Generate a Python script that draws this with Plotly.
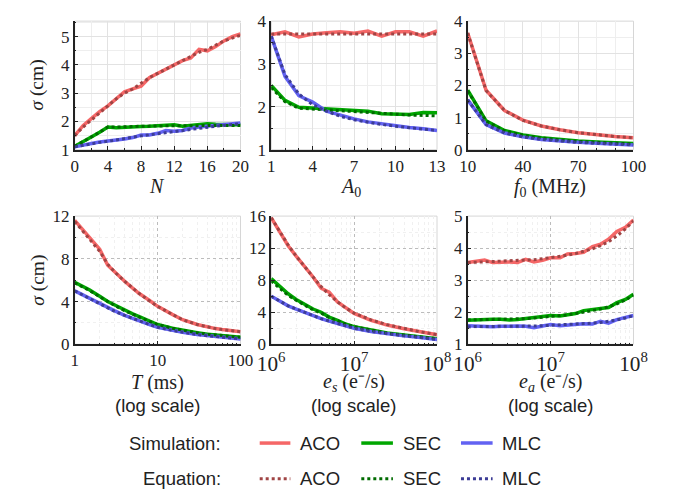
import plotly.graph_objects as go

# ---------------- data ----------------
N = list(range(0, 21))
N_aco_sim = [1.5, 1.85, 2.1, 2.35, 2.55, 2.8, 3.05, 3.15, 3.25, 3.55, 3.7, 3.85, 4.0, 4.15, 4.25, 4.55, 4.5, 4.65, 4.85, 5.0, 5.1]
N_aco_eq = [1.5, 1.8, 2.05, 2.3, 2.55, 2.8, 3.0, 3.15, 3.35, 3.55, 3.7, 3.85, 4.0, 4.15, 4.3, 4.45, 4.55, 4.7, 4.85, 4.95, 5.05]
N_sec_sim = [1.12, 1.3, 1.45, 1.62, 1.8, 1.78, 1.8, 1.83, 1.82, 1.83, 1.85, 1.87, 1.88, 1.83, 1.85, 1.9, 1.92, 1.9, 1.88, 1.88, 1.88]
N_sec_eq = [1.12, 1.3, 1.45, 1.62, 1.8, 1.8, 1.82, 1.82, 1.83, 1.84, 1.84, 1.85, 1.85, 1.85, 1.85, 1.85, 1.86, 1.86, 1.86, 1.86, 1.86]
N_mlc_sim = [1.1, 1.17, 1.22, 1.27, 1.3, 1.32, 1.38, 1.43, 1.52, 1.52, 1.58, 1.68, 1.65, 1.68, 1.77, 1.8, 1.83, 1.85, 1.88, 1.9, 1.95]
N_mlc_eq = [1.1, 1.16, 1.21, 1.26, 1.3, 1.34, 1.39, 1.44, 1.49, 1.53, 1.57, 1.61, 1.65, 1.69, 1.73, 1.76, 1.8, 1.83, 1.86, 1.89, 1.92]

A0 = list(range(1, 14))
A_aco_sim = [3.68, 3.75, 3.63, 3.7, 3.73, 3.75, 3.72, 3.77, 3.65, 3.75, 3.75, 3.65, 3.77]
A_aco_eq = [3.7] * 13
A_sec_sim = [2.5, 2.15, 1.99, 1.97, 1.96, 1.93, 1.91, 1.9, 1.84, 1.84, 1.82, 1.87, 1.86]
A_sec_eq = [2.45, 2.12, 1.97, 1.95, 1.93, 1.9, 1.88, 1.86, 1.84, 1.82, 1.81, 1.8, 1.79]
A_mlc_sim = [3.65, 2.71, 2.26, 2.11, 1.9, 1.8, 1.72, 1.65, 1.6, 1.55, 1.52, 1.49, 1.45]
A_mlc_eq = [3.65, 2.75, 2.3, 2.05, 1.9, 1.78, 1.7, 1.64, 1.59, 1.55, 1.51, 1.48, 1.45]

f0 = [10, 20, 30, 40, 50, 60, 70, 80, 90, 100]
f_aco_sim = [3.63, 1.85, 1.22, 0.92, 0.74, 0.62, 0.53, 0.46, 0.41, 0.37]
f_aco_eq = [3.63, 1.84, 1.22, 0.91, 0.74, 0.62, 0.53, 0.46, 0.41, 0.37]
f_sec_sim = [1.85, 0.9, 0.6, 0.46, 0.37, 0.31, 0.27, 0.24, 0.21, 0.19]
f_sec_eq = [1.83, 0.89, 0.59, 0.45, 0.36, 0.3, 0.26, 0.23, 0.2, 0.18]
f_mlc_sim = [1.55, 0.78, 0.52, 0.4, 0.32, 0.27, 0.23, 0.2, 0.17, 0.15]
f_mlc_eq = [1.55, 0.78, 0.52, 0.4, 0.32, 0.27, 0.23, 0.2, 0.17, 0.15]

T = [1, 1.5, 2, 2.5, 3, 4, 5, 6, 8, 10, 15, 20, 30, 40, 50, 60, 80, 100]
T_aco_sim = [11.6, 10.0, 8.9, 7.4, 6.8, 5.9, 5.25, 4.75, 4.1, 3.55, 2.8, 2.3, 1.85, 1.62, 1.47, 1.38, 1.27, 1.18]
T_aco_eq = [11.5, 9.9, 8.7, 7.5, 6.8, 5.9, 5.25, 4.75, 4.05, 3.55, 2.8, 2.3, 1.85, 1.62, 1.47, 1.38, 1.27, 1.18]
T_sec_sim = [5.8, 5.1, 4.5, 4.0, 3.7, 3.2, 2.85, 2.6, 2.15, 1.85, 1.5, 1.3, 1.08, 0.95, 0.87, 0.8, 0.72, 0.65]
T_sec_eq = [5.75, 5.05, 4.45, 4.0, 3.65, 3.15, 2.8, 2.55, 2.15, 1.85, 1.5, 1.3, 1.08, 0.95, 0.87, 0.8, 0.72, 0.65]
T_mlc_sim = [5.0, 4.3, 3.8, 3.4, 3.15, 2.7, 2.4, 2.2, 1.85, 1.6, 1.3, 1.12, 0.92, 0.8, 0.72, 0.66, 0.57, 0.5]
T_mlc_eq = [5.0, 4.3, 3.8, 3.4, 3.1, 2.7, 2.4, 2.2, 1.85, 1.6, 1.3, 1.12, 0.92, 0.8, 0.72, 0.66, 0.57, 0.5]

es = [1e6, 1.3e6, 1.6e6, 2e6, 2.5e6, 3.2e6, 4e6, 5e6, 6.3e6, 8e6, 1e7, 1.6e7, 2.5e7, 4e7, 6.3e7, 1e8]
es_aco_sim = [15.8, 13.8, 12.3, 11.0, 9.8, 8.4, 7.0, 6.5, 5.3, 4.5, 3.85, 3.0, 2.4, 1.95, 1.55, 1.2]
es_aco_eq = [15.8, 13.9, 12.4, 11.0, 9.7, 8.4, 7.2, 6.2, 5.3, 4.5, 3.9, 3.05, 2.45, 1.95, 1.55, 1.2]
es_sec_sim = [8.2, 7.1, 6.3, 5.6, 5.0, 4.4, 4.0, 3.4, 3.0, 2.5, 2.2, 1.75, 1.4, 1.15, 0.95, 0.7]
es_sec_eq = [7.9, 6.9, 6.1, 5.5, 4.9, 4.3, 3.9, 3.35, 2.95, 2.5, 2.2, 1.75, 1.4, 1.15, 0.95, 0.7]
es_mlc_sim = [6.0, 5.3, 4.8, 4.4, 4.0, 3.6, 3.2, 2.9, 2.6, 2.3, 2.0, 1.6, 1.3, 1.05, 0.85, 0.6]
es_mlc_eq = [6.0, 5.3, 4.8, 4.4, 4.0, 3.6, 3.2, 2.9, 2.6, 2.3, 2.0, 1.6, 1.3, 1.05, 0.85, 0.6]

ea = [1e6, 1.6e6, 2e6, 2.5e6, 3.2e6, 4e6, 5e6, 6.3e6, 8e6, 1e7, 1.3e7, 1.6e7, 2e7, 2.5e7, 3.2e7, 4e7, 5e7, 6.3e7, 8e7, 1e8]
ea_aco_sim = [3.55, 3.63, 3.55, 3.57, 3.57, 3.55, 3.65, 3.57, 3.62, 3.7, 3.7, 3.82, 3.83, 3.87, 4.05, 4.12, 4.28, 4.52, 4.65, 4.88]
ea_aco_eq = [3.55, 3.57, 3.58, 3.59, 3.6, 3.61, 3.62, 3.64, 3.67, 3.7, 3.74, 3.78, 3.83, 3.9, 3.98, 4.08, 4.2, 4.38, 4.6, 4.85]
ea_sec_sim = [1.75, 1.78, 1.78, 1.78, 1.76, 1.77, 1.8, 1.82, 1.86, 1.9, 1.88, 1.92, 1.96, 2.05, 2.08, 2.13, 2.15, 2.3, 2.4, 2.56]
ea_sec_eq = [1.76, 1.77, 1.77, 1.78, 1.78, 1.79, 1.8, 1.82, 1.84, 1.86, 1.89, 1.92, 1.96, 2.0, 2.05, 2.1, 2.17, 2.26, 2.38, 2.53]
ea_mlc_sim = [1.58, 1.55, 1.55, 1.56, 1.57, 1.57, 1.56, 1.52, 1.57, 1.62, 1.58, 1.6, 1.62, 1.64, 1.63, 1.72, 1.66, 1.77, 1.84, 1.9]
ea_mlc_eq = [1.55, 1.55, 1.55, 1.56, 1.56, 1.56, 1.57, 1.57, 1.58, 1.59, 1.6, 1.61, 1.62, 1.64, 1.66, 1.68, 1.71, 1.76, 1.82, 1.9]

methods = ["ACO", "SEC", "MLC"]
sim_colors = {"ACO": "#f56767", "SEC": "#00a600", "MLC": "#6262f2"}
eq_colors = {"ACO": "#a04444", "SEC": "#006b00", "MLC": "#3c3c96"}

panels = [
    (N, [N_aco_sim, N_sec_sim, N_mlc_sim], [N_aco_eq, N_sec_eq, N_mlc_eq]),
    (A0, [A_aco_sim, A_sec_sim, A_mlc_sim], [A_aco_eq, A_sec_eq, A_mlc_eq]),
    (f0, [f_aco_sim, f_sec_sim, f_mlc_sim], [f_aco_eq, f_sec_eq, f_mlc_eq]),
    (T, [T_aco_sim, T_sec_sim, T_mlc_sim], [T_aco_eq, T_sec_eq, T_mlc_eq]),
    (es, [es_aco_sim, es_sec_sim, es_mlc_sim], [es_aco_eq, es_sec_eq, es_mlc_eq]),
    (ea, [ea_aco_sim, ea_sec_sim, ea_mlc_sim], [ea_aco_eq, ea_sec_eq, ea_mlc_eq]),
]

W, H = 674, 497
OFF = 8  # page body margin in the browser shifts the figure by 8px
xdom = [(63, 236), (268, 441), (473, 646)]
ydom = [(12.3, 146), (215, 348.3)]


def px(x):
    return (x - OFF) / W


def py(y):
    return 1 - (y - OFF) / H


fig = go.Figure()
for i, (xs, sims, eqs) in enumerate(panels):
    ax = "" if i == 0 else str(i + 1)
    for m, ys in zip(methods, sims):
        fig.add_trace(go.Scatter(x=xs, y=ys, mode="lines", xaxis="x" + ax, yaxis="y" + ax,
                                 line=dict(color=sim_colors[m], width=3.5), showlegend=False))
    for m, ys in zip(methods, eqs):
        fig.add_trace(go.Scatter(x=xs, y=ys, mode="lines", xaxis="x" + ax, yaxis="y" + ax,
                                 line=dict(color=eq_colors[m], width=3, dash="dot"), showlegend=False))

serif = "Liberation Serif"
sans = "Liberation Sans"
tickfont = dict(family=serif, size=17, color="#222")

xcfg = [
    dict(range=[0, 20], tickvals=[0, 4, 8, 12, 16, 20], minor=dict(tickvals=list(range(0, 21, 2)))),
    dict(range=[1, 13], tickvals=[1, 4, 7, 10, 13], minor=dict(tickvals=list(range(1, 14)))),
    dict(range=[10, 100], tickvals=[10, 40, 70, 100], minor=dict(tickvals=list(range(10, 101, 10)))),
    dict(type="log", range=[0, 2], dtick=1, minor=dict(showgrid=True)),
    dict(type="log", range=[6, 8], dtick=1, exponentformat="power", minor=dict(showgrid=True)),
    dict(type="log", range=[6, 8], dtick=1, exponentformat="power", minor=dict(showgrid=True)),
]
ycfg = [
    dict(range=[1, 5.55], tickvals=[1, 2, 3, 4, 5], minor=dict(tickvals=[1.5, 2.5, 3.5, 4.5, 5.5])),
    dict(range=[1, 4], tickvals=[1, 2, 3, 4], minor=dict(tickvals=[1.5, 2.5, 3.5])),
    dict(range=[0, 4], tickvals=[0, 1, 2, 3, 4], minor=dict(tickvals=[0.5, 1.5, 2.5, 3.5])),
    dict(range=[0, 12], tickvals=[0, 4, 8, 12], minor=dict(tickvals=[2, 6, 10])),
    dict(range=[0, 16], tickvals=[0, 4, 8, 12, 16], minor=dict(tickvals=[2, 6, 10, 14])),
    dict(range=[1, 5], tickvals=[1, 2, 3, 4, 5], minor=dict(tickvals=[1.5, 2.5, 3.5, 4.5])),
]

layout = {}
shapes = []
for i in range(6):
    r, c = divmod(i, 3)
    ax = "" if i == 0 else str(i + 1)
    xd = [px(xdom[c][0]), px(xdom[c][1])]
    yd = [py(ydom[r][1]), py(ydom[r][0])]
    if r == 0:
        gcol, gdash, mcol = "#e2e2e2", "solid", "#eeeeee"
    else:
        gcol, gdash, mcol = "#bcbcbc", "dot", "#f0f0f0"
    common = dict(showline=True, linecolor="#222", linewidth=1.5,
                  ticks="inside", ticklen=4, tickcolor="#222", tickfont=tickfont,
                  showgrid=True, gridcolor=gcol, griddash=gdash, gridwidth=1, zeroline=False,
                  ticklabelstandoff=0)
    xc = dict(domain=xd, anchor="y" + ax, **common)
    mx = xcfg[i].pop("minor")
    mx.update(dict(ticks="inside", ticklen=2, tickcolor="#222", showgrid=True, gridcolor=mcol))
    xc.update(xcfg[i])
    xc["minor"] = mx
    yc = dict(domain=yd, anchor="x" + ax, **common)
    my = ycfg[i].pop("minor")
    my.update(dict(ticks="inside", ticklen=2, tickcolor="#222", showgrid=True, gridcolor=mcol))
    yc.update(ycfg[i])
    yc["minor"] = my
    layout["xaxis" + ax] = xc
    layout["yaxis" + ax] = yc
    shapes.append(dict(type="rect", xref="x%s domain" % ax, yref="y%s domain" % ax,
                       x0=0, x1=1, y0=0, y1=1, line=dict(color="#d6d6d6", width=1), layer="below"))

ann = []


def A(text, x, y, font, size, angle=0, xanchor="center"):
    ann.append(dict(text=text, x=px(x), y=py(y), xref="paper", yref="paper", showarrow=False,
                    font=dict(family=font, size=size, color="#222"), textangle=angle,
                    xanchor=xanchor, yanchor="middle"))


A("<i>σ</i> (cm)", 24, 79, serif, 19.5, angle=-90)
A("<i>σ</i> (cm)", 24, 282, serif, 19.5, angle=-90)
A("<i>N</i>", 149, 184, serif, 20)
A("<i>A</i><sub>0</sub>", 351, 185, serif, 20)
A("<i>f</i><sub>0</sub> (MHz)", 559, 185, serif, 20)
A("<i>T</i> (ms)", 149, 388, serif, 20)
A("<i>e</i><sub><i>s</i></sub> (e⁻/s)", 354, 388, serif, 20)
A("<i>e</i><sub><i>a</i></sub> (e⁻/s)", 559, 388, serif, 20)
for cx in (149, 354, 559):
    A("(log scale)", cx, 412, sans, 18.5)

# legend (manual)
A("Simulation:", 218, 451, sans, 18.5, xanchor="right")
A("Equation:", 218, 488, sans, 18.5, xanchor="right")
lx = [(256, 288), (362, 395), (466, 499)]
for (x0, x1), m in zip(lx, methods):
    shapes.append(dict(type="line", xref="paper", yref="paper", x0=px(x0), x1=px(x1),
                       y0=py(451), y1=py(451), line=dict(color=sim_colors[m], width=3.5)))
    shapes.append(dict(type="line", xref="paper", yref="paper", x0=px(x0), x1=px(x1),
                       y0=py(488), y1=py(488), line=dict(color=eq_colors[m], width=3, dash="dot")))
    A(m, x1 + 8, 451, sans, 18.5, xanchor="left")
    A(m, x1 + 8, 488, sans, 18.5, xanchor="left")

fig.update_layout(width=W, height=H, margin=dict(l=0, r=0, t=0, b=0),
                  paper_bgcolor="white", plot_bgcolor="white", showlegend=False,
                  shapes=shapes, annotations=ann, **layout)
fig.write_html("out.html")
